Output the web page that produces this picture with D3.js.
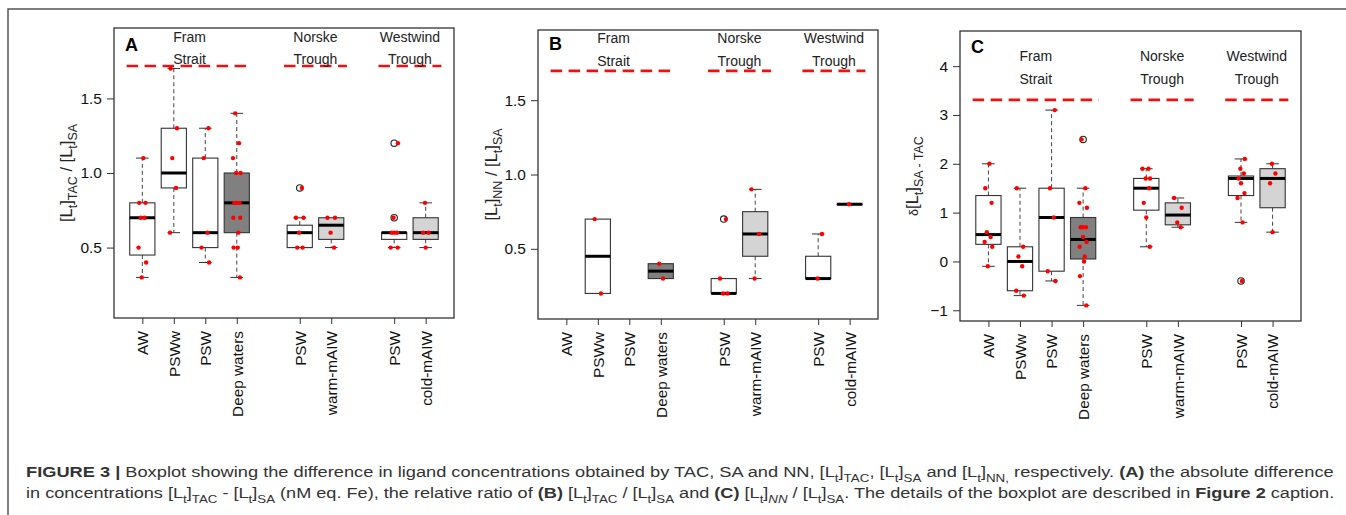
<!DOCTYPE html>
<html>
<head>
<meta charset="utf-8">
<script src="https://cdn.jsdelivr.net/npm/d3@7"></script>
<style>
body { margin: 0; background: #fff; }
svg { display: block; }
svg text { font-family: "Liberation Sans", Arial, sans-serif; }
</style>
</head>
<body>
<svg id="fig" width="1346" height="515"></svg>
<script>
// categories along the x axis (R "at" slots leave gaps between regions)
var categories = ["AW", "PSWw", "PSW", "Deep waters", "PSW", "warm-mAIW", "PSW", "cold-mAIW"];
var slots = [1, 2, 3, 4, 6, 7, 9, 10];
var waterKind = ["surf", "surf", "surf", "deep", "surf", "maiw", "surf", "maiw"];
var regionNames = [["Fram", "Strait"], ["Norske", "Trough"], ["Westwind", "Trough"]];
var regionMembers = [[0, 1, 2, 3], [4, 5], [6, 7]];

// box stats: [lower whisker, Q1, median, Q3, upper whisker]
var statsA = [[0.3, 0.45, 0.7, 0.8, 1.1], [0.6, 0.9, 1.0, 1.3, 1.7], [0.4, 0.5, 0.6, 1.1, 1.3], [0.3, 0.6, 0.8, 1.0, 1.4],
              [0.5, 0.5, 0.6, 0.65, 0.7], [0.5, 0.555, 0.65, 0.7, 0.7], [0.5, 0.555, 0.6, 0.6, 0.6], [0.5, 0.555, 0.6, 0.7, 0.8]];
var outliersA = [[], [], [], [], [0.9], [], [1.2, 0.7], []];
var pointsA = [[1.1, 0.8, 0.8, 0.7, 0.7, 0.5, 0.4, 0.3], [1.7, 1.3, 1.1, 0.9, 0.6], [1.3, 1.1, 0.6, 0.5, 0.4],
               [1.4, 1.2, 1.1, 1.0, 1.0, 0.8, 0.8, 0.8, 0.7, 0.7, 0.6, 0.5, 0.5, 0.3], [0.9, 0.7, 0.7, 0.6, 0.5, 0.5],
               [0.7, 0.7, 0.6, 0.5], [1.2, 0.7, 0.6, 0.6, 0.6, 0.5, 0.5], [0.8, 0.6, 0.6, 0.5]];

var statsB = [null, [0.2, 0.2, 0.45, 0.7, 0.7], null, [0.3, 0.3, 0.35, 0.4, 0.4],
              [0.2, 0.2, 0.2, 0.3, 0.3], [0.3, 0.45, 0.6, 0.75, 0.9], [0.3, 0.3, 0.3, 0.45, 0.6], [0.8, 0.8, 0.8, 0.8, 0.8]];
var outliersB = [[], [], [], [], [0.7], [], [], []];
var pointsB = [[], [0.7, 0.2], [], [0.4, 0.3], [0.7, 0.3, 0.2, 0.2], [0.9, 0.6, 0.3], [0.6, 0.3], [0.8]];

var statsC = [[-0.1, 0.35, 0.55, 1.35, 2.0], [-0.7, -0.6, 0.0, 0.3, 1.5], [-0.4, -0.2, 0.9, 1.5, 3.1], [-0.9, 0.05, 0.45, 0.9, 1.5],
              [0.3, 1.05, 1.5, 1.7, 1.9], [0.7, 0.75, 0.95, 1.2, 1.3], [0.8, 1.35, 1.7, 1.75, 2.1], [0.6, 1.1, 1.7, 1.9, 2.0]];
var outliersC = [[], [], [], [2.5], [], [], [-0.4], []];
var pointsC = [[2.0, 1.5, 1.2, 0.6, 0.5, 0.4, 0.3, -0.1], [1.5, 0.3, 0.1, -0.1, -0.6, -0.7], [3.1, 1.5, 0.9, -0.2, -0.4],
               [2.5, 1.5, 1.2, 1.1, 0.7, 0.7, 0.7, 0.5, 0.4, 0.3, 0.1, 0.0, -0.3, -0.9], [1.9, 1.9, 1.7, 1.7, 1.5, 1.2, 0.9, 0.3],
               [1.3, 1.1, 0.8, 0.7], [2.1, 1.9, 1.8, 1.7, 1.6, 1.4, 1.3, 0.8, -0.4], [2.0, 1.8, 1.6, 0.6]];

var ticksAB = [0.5, 1.0, 1.5];
var ticksC = [-1, 0, 1, 2, 3, 4];

var FONT = "'Liberation Sans', Arial, sans-serif";
var svg = d3.select("#fig");
svg.append("rect").attr("width", 1346).attr("height", 515).attr("fill", "#fff");

// outer figure frame (only top and left are inside the crop)
svg.append("path").attr("d", "M8,515V9H1346").attr("fill", "none")
    .attr("stroke", "#555").attr("stroke-width", 1.5);

var fills = {surf: "#ffffff", deep: "#808080", maiw: "#d4d4d4"};
var jit = [0.03, -0.1, 0.1, -0.05, 0.07, -0.12, 0.12, -0.02, 0.09, -0.08, 0.0, 0.11, -0.11, 0.05];

// write text made of [string, kind] parts: kind 0 normal, 1 subscript, 2 bold, 3 small, 4 italic subscript
function rich(t, parts, size, subSize) {
    var shift = 0;
    parts.forEach(function(p) {
        var ts = t.append("tspan").text(p[0]);
        var want = (p[1] === 1 || p[1] === 4) ? size * 0.3 : 0;
        if (want !== shift) { ts.attr("dy", want - shift); shift = want; }
        if (p[1] === 1 || p[1] === 4) ts.attr("font-size", subSize);
        if (p[1] === 3) ts.attr("font-size", subSize);
        if (p[1] === 2) ts.attr("font-weight", "bold");
        if (p[1] === 4) ts.attr("font-style", "italic");
    });
}

function drawPanel(cfg) {
    var b = cfg.box;
    var span = cfg.ylim[1] - cfg.ylim[0];
    var y = d3.scaleLinear().domain([cfg.ylim[0] - 0.04 * span, cfg.ylim[1] + 0.04 * span]).range([b[3], b[1]]);
    var x = d3.scaleLinear().domain([0.1, 10.9]).range([b[0], b[2]]);
    var bw = x(0.8) - x(0);
    var g = svg.append("g");

    // y axis
    var ya = g.append("g").attr("transform", "translate(" + b[0] + ",0)")
        .call(d3.axisLeft(y).tickValues(cfg.ticks).tickFormat(cfg.fmt).tickSize(7).tickPadding(5));
    ya.attr("font-family", FONT);
    ya.select(".domain").remove();
    ya.selectAll("line").attr("stroke", "#333");
    ya.selectAll("text").attr("font-size", 15.5).attr("fill", "#111");

    // x axis, labels turned to read upwards
    var xa = g.append("g").attr("transform", "translate(0," + b[3] + ")")
        .call(d3.axisBottom(x).tickValues(slots).tickFormat(function(d, i) { return categories[i]; }).tickSize(6));
    xa.attr("font-family", FONT);
    xa.select(".domain").remove();
    xa.selectAll("line").attr("stroke", "#333");
    xa.selectAll("text").attr("font-size", 15.3).attr("fill", "#111")
        .attr("transform", "rotate(-90)").attr("text-anchor", "end")
        .attr("x", -13).attr("y", 0).attr("dy", "0.35em");

    // region labels and red dashed lines
    regionMembers.forEach(function(m, k) {
        var x0 = slots[m[0]] - 0.5, x1 = slots[m[m.length - 1]] + 0.5, xc = (x0 + x1) / 2;
        g.append("line").attr("x1", x(x0)).attr("x2", x(x1)).attr("y1", y(cfg.refLine)).attr("y2", y(cfg.refLine))
            .attr("stroke", "#f01010").attr("stroke-width", 2.6).attr("stroke-dasharray", "11.5,6.5");
        regionNames[k].forEach(function(s, j) {
            g.append("text").attr("x", x(xc)).attr("y", y(cfg.labY[j])).attr("dy", "0.36em")
                .attr("text-anchor", "middle").attr("font-size", 14).attr("fill", "#222").text(s);
        });
    });

    // boxes
    cfg.stats.forEach(function(s, i) {
        if (!s) return;
        var cx = x(slots[i]);
        var dash = "4,3";
        if (s[4] > s[3]) {
            g.append("line").attr("x1", cx).attr("x2", cx).attr("y1", y(s[3])).attr("y2", y(s[4]))
                .attr("stroke", "#444").attr("stroke-dasharray", dash);
            g.append("line").attr("x1", cx - bw / 4).attr("x2", cx + bw / 4).attr("y1", y(s[4])).attr("y2", y(s[4])).attr("stroke", "#333");
        }
        if (s[0] < s[1]) {
            g.append("line").attr("x1", cx).attr("x2", cx).attr("y1", y(s[1])).attr("y2", y(s[0]))
                .attr("stroke", "#444").attr("stroke-dasharray", dash);
            g.append("line").attr("x1", cx - bw / 4).attr("x2", cx + bw / 4).attr("y1", y(s[0])).attr("y2", y(s[0])).attr("stroke", "#333");
        }
        g.append("rect").attr("x", cx - bw / 2).attr("width", bw)
            .attr("y", y(s[3])).attr("height", Math.max(0.5, y(s[1]) - y(s[3])))
            .attr("fill", fills[waterKind[i]]).attr("stroke", "#333").attr("stroke-width", 1.1);
        g.append("line").attr("x1", cx - bw / 2).attr("x2", cx + bw / 2).attr("y1", y(s[2])).attr("y2", y(s[2]))
            .attr("stroke", "#000").attr("stroke-width", 3);
    });

    // outliers (open circles)
    cfg.out.forEach(function(o, i) {
        o.forEach(function(v) {
            g.append("circle").attr("cx", x(slots[i])).attr("cy", y(v)).attr("r", 3.2)
                .attr("fill", "none").attr("stroke", "#222").attr("stroke-width", 1.1);
        });
    });

    // raw samples
    cfg.pts.forEach(function(p, i) {
        p.forEach(function(v, k) {
            g.append("circle").attr("cx", x(slots[i] + jit[(k + i) % jit.length])).attr("cy", y(v)).attr("r", 2.2)
                .attr("fill", "#ff0000");
        });
    });

    // plot frame
    g.append("rect").attr("x", b[0]).attr("y", b[1]).attr("width", b[2] - b[0]).attr("height", b[3] - b[1])
        .attr("fill", "none").attr("stroke", "#333").attr("stroke-width", 1.3);

    // panel letter
    g.append("text").attr("x", b[0] + 11).attr("y", b[1] + cfg.letterDy).attr("font-size", 18)
        .attr("font-weight", "bold").attr("fill", "#000").text(cfg.id);

    // y title
    var t = g.append("text").attr("text-anchor", "middle").attr("fill", "#222").attr("font-size", 16.5)
        .attr("transform", "translate(" + cfg.titleX + "," + ((b[1] + b[3]) / 2) + ") rotate(-90)");
    rich(t, cfg.title, 16.5, 12.5);
}

drawPanel({id: "A", box: [114, 28, 454, 318], ylim: [0.1, 1.9], ticks: ticksAB, fmt: d3.format(".1f"),
    stats: statsA, out: outliersA, pts: pointsA, refLine: 1.717, labY: [1.914, 1.764], letterDy: 23, titleX: 72,
    title: [["[L", 0], ["t", 1], ["]", 0], ["TAC", 1], [" / [L", 0], ["t", 1], ["]", 0], ["SA", 1]]});
drawPanel({id: "B", box: [538, 30, 878, 319], ylim: [0.1, 1.9], ticks: ticksAB, fmt: d3.format(".1f"),
    stats: statsB, out: outliersB, pts: pointsB, refLine: 1.697, labY: [1.916, 1.765], letterDy: 20, titleX: 497,
    title: [["[L", 0], ["t", 1], ["]", 0], ["NN", 1], [" / [L", 0], ["t", 1], ["]", 0], ["SA", 1]]});
drawPanel({id: "C", box: [960, 31, 1301, 321], ylim: [-1, 4.5], ticks: ticksC, fmt: d3.format("d"),
    stats: statsC, out: outliersC, pts: pointsC, refLine: 3.31, labY: [4.208, 3.743], letterDy: 22, titleX: 918,
    title: [["\u03b4", 3], ["[L", 0], ["t", 1], ["]", 0], ["SA - TAC", 1]]});

// caption, two justified lines
var cap1 = [["FIGURE 3 | ", 2], ["Boxplot showing the difference in ligand concentrations obtained by TAC, SA and NN, [L", 0], ["t", 1], ["]", 0],
    ["TAC", 1], [", [L", 0], ["t", 1], ["]", 0], ["SA", 1], [" and [L", 0], ["t", 1], ["]", 0], ["NN,", 1],
    [" respectively. ", 0], ["(A)", 2], [" the absolute difference", 0]];
var cap2 = [["in concentrations [L", 0], ["t", 1], ["]", 0], ["TAC", 1], [" - [L", 0], ["t", 1], ["]", 0], ["SA", 1],
    [" (nM eq. Fe), the relative ratio of ", 0], ["(B)", 2], [" [L", 0], ["t", 1], ["]", 0], ["TAC", 1], [" / [L", 0], ["t", 1], ["]", 0],
    ["SA", 1], [" and ", 0], ["(C)", 2], [" [L", 0], ["t", 1], ["]", 0], ["NN", 4], [" / [L", 0], ["t", 1], ["]", 0], ["SA", 1],
    [". The details of the boxplot are described in ", 0], ["Figure 2", 2], [" caption.", 0]];
[[cap1, 477], [cap2, 498]].forEach(function(c) {
    var g = svg.append("g");
    var t = g.append("text").attr("x", 0).attr("y", 0).attr("font-size", 15).attr("fill", "#333");
    rich(t, c[0], 15, 11);
    var w = t.node().getComputedTextLength();
    g.attr("transform", "translate(26," + c[1] + ") scale(" + (1309 / w) + ",1)");
});
</script>
</body>
</html>
